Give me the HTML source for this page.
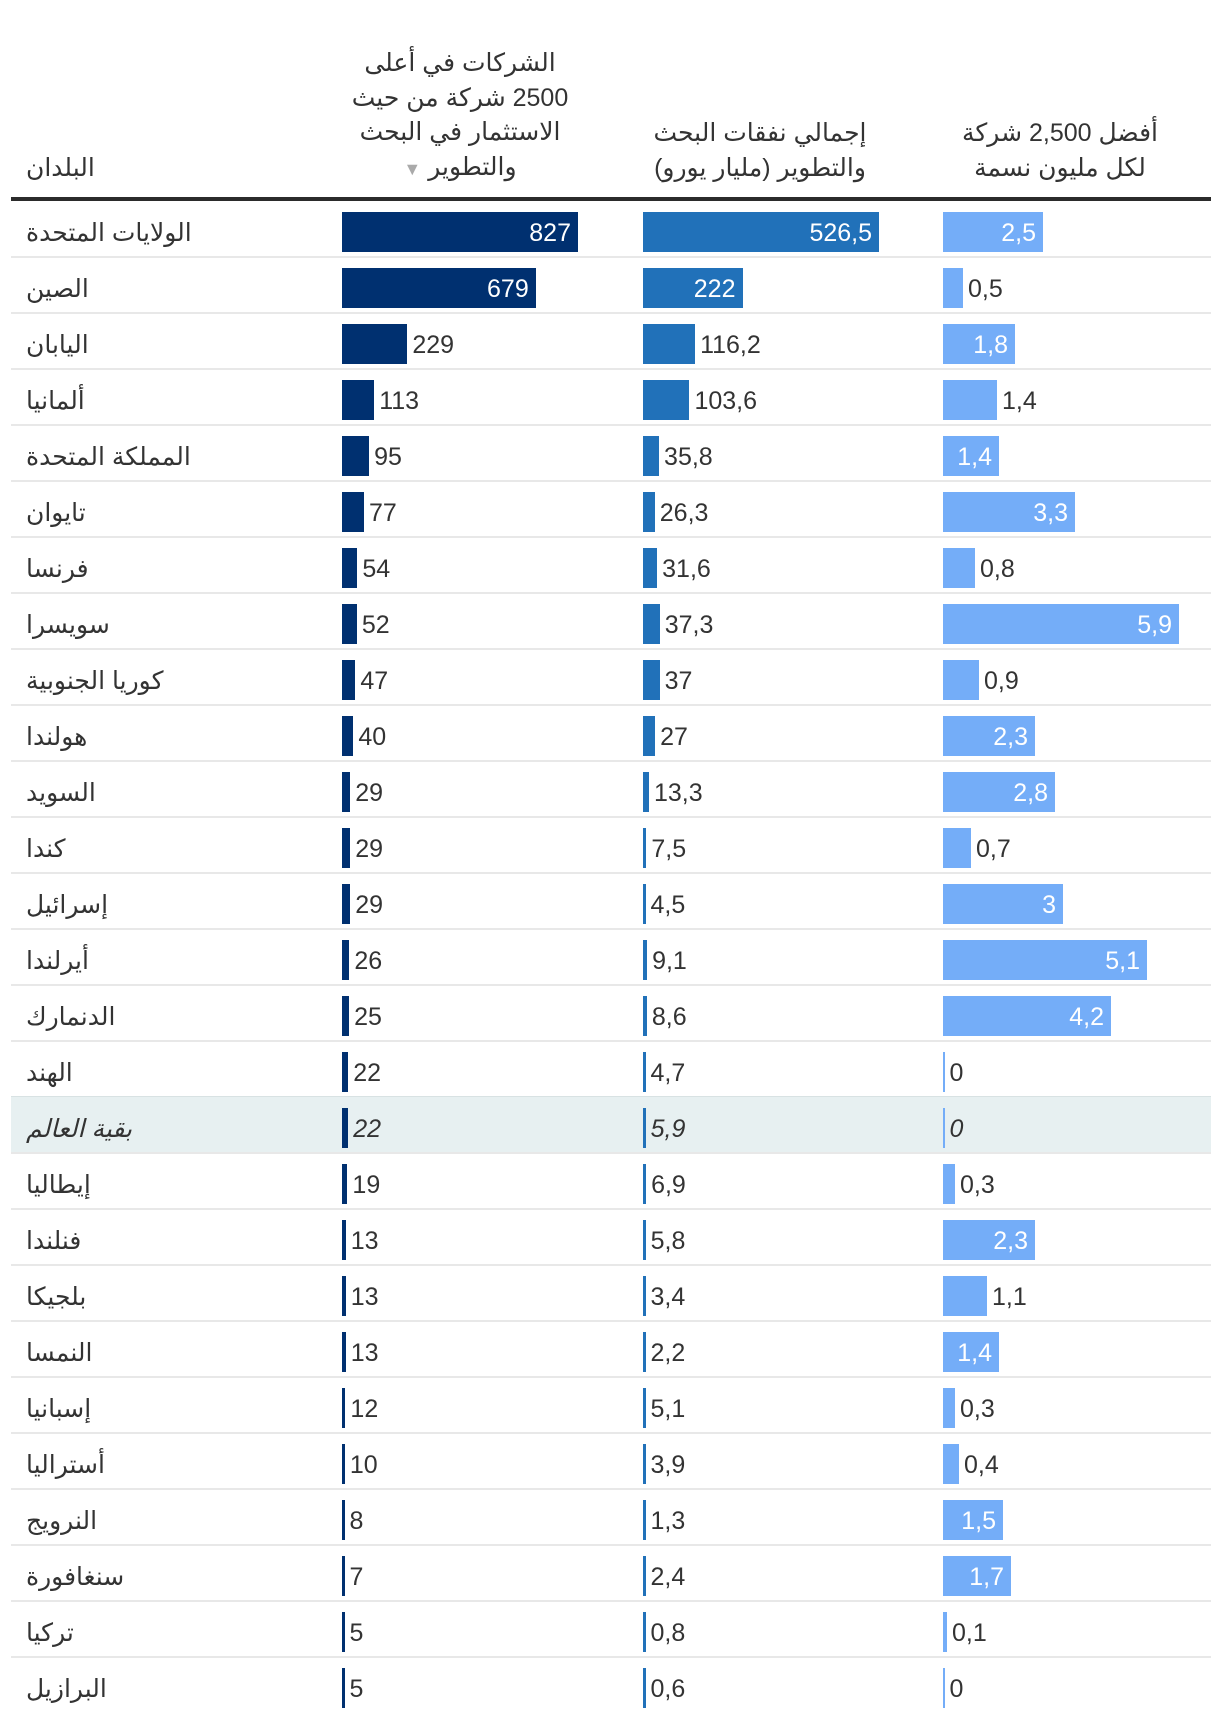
<!DOCTYPE html>
<html><head><meta charset="utf-8">
<style>
body{margin:0;background:#fff;width:1220px;height:1722px;overflow:hidden;position:relative;font-family:"Liberation Sans","Noto Sans CJK SC","DejaVu Sans",sans-serif;color:#333}
.h{position:absolute;text-align:center;font-size:25px;line-height:34.5px;color:#333;direction:rtl}
.abs{position:absolute}
.name{position:absolute;left:26px;font-size:25px;line-height:56px;direction:rtl;white-space:nowrap}
.v{position:absolute;font-size:25px;line-height:56px;white-space:nowrap}
</style></head>
<body>
<div class="h" style="left:26px;top:151px;text-align:left">البلدان</div>
<div class="h" style="left:310px;width:300px;top:46px">الشركات في أعلى<br>2500 شركة من حيث<br>الاستثمار في البحث<br>والتطوير <span style="color:#aaa;font-size:18px">▼</span></div>
<div class="h" style="left:610px;width:300px;top:116px">إجمالي نفقات البحث<br>والتطوير (مليار يورو)</div>
<div class="h" style="left:910px;width:300px;top:116px">أفضل 2,500 شركة<br>لكل مليون نسمة</div>
<div class="abs" style="left:11px;top:197px;width:1200px;height:4px;background:#2b2b2b"></div>
<div id="rows"></div>
<script>
const countries=["الولايات المتحدة","الصين","اليابان","ألمانيا","المملكة المتحدة","تايوان","فرنسا","سويسرا","كوريا الجنوبية","هولندا","السويد","كندا","إسرائيل","أيرلندا","الدنمارك","الهند","بقية العالم","إيطاليا","فنلندا","بلجيكا","النمسا","إسبانيا","أستراليا","النرويج","سنغافورة","تركيا","البرازيل"];
const companies=[827,679,229,113,95,77,54,52,47,40,29,29,29,26,25,22,22,19,13,13,13,12,10,8,7,5,5];
const spending=[526.5,222,116.2,103.6,35.8,26.3,31.6,37.3,37,27,13.3,7.5,4.5,9.1,8.6,4.7,5.9,6.9,5.8,3.4,2.2,5.1,3.9,1.3,2.4,0.8,0.6];
const perMillion=[2.5,0.5,1.8,1.35,1.4,3.3,0.8,5.9,0.9,2.3,2.8,0.7,3,5.1,4.2,0,0,0.3,2.3,1.1,1.4,0.3,0.4,1.5,1.7,0.1,0];
const cols=[
 {data:companies,x0:342,scale:236/827,color:"#003070",thr:100,name:"companies"},
 {data:spending,x0:643,scale:236/526.5,color:"#2171b9",thr:80,name:"spending"},
 {data:perMillion,x0:943,scale:236/5.9,color:"#74adf8",thr:55,name:"per-million"}
];
const root=document.getElementById('rows');
const TOP=201,RH=56;
function fmt(v){return String(Math.round(v*10)/10).replace('.',',');}
countries.forEach((c,i)=>{
 const y=TOP+i*RH;
 const special=i===16;
 if(special){
  const bg=document.createElement('div');bg.className='abs';
  
  
  bg.style.cssText=`left:11px;top:${y}px;width:1200px;height:${RH}px;background:#e7f0f1`;
  root.appendChild(bg);
 }
 if(i<countries.length-1){
  const ln=document.createElement('div');ln.className='abs';
  
  
  ln.style.cssText=`left:11px;top:${y+RH-1}px;width:1200px;height:2px;background:${i===15?'#d8e2e3':'#e8e8e8'}`;
  root.appendChild(ln);
 }
 const n=document.createElement('div');n.className='name';
 
 
 n.style.top=(y+4)+'px';if(special)n.style.fontStyle='italic';
 n.textContent=c;root.appendChild(n);
 cols.forEach(col=>{
  const v=col.data[i];
  const w=Math.max(v*col.scale,col.name==='per-million'?1.5:2.5);
  const b=document.createElement('div');b.className='abs';
  
  
  b.style.cssText=`left:${col.x0}px;top:${y+11}px;width:${w}px;height:40px;background:${col.color}`;
  root.appendChild(b);
  const t=document.createElement('div');t.className='v';
  
  
  t.textContent=fmt(v);
  if(special)t.style.fontStyle='italic';
  if(w>col.thr){t.style.cssText+=`;top:${y+4}px;left:${col.x0}px;width:${w-7}px;text-align:right;color:#fff`;}
  else{t.style.cssText+=`;top:${y+4}px;left:${col.x0+w+5}px;color:#333`;}
  root.appendChild(t);
 });
});
</script>
</body></html>
